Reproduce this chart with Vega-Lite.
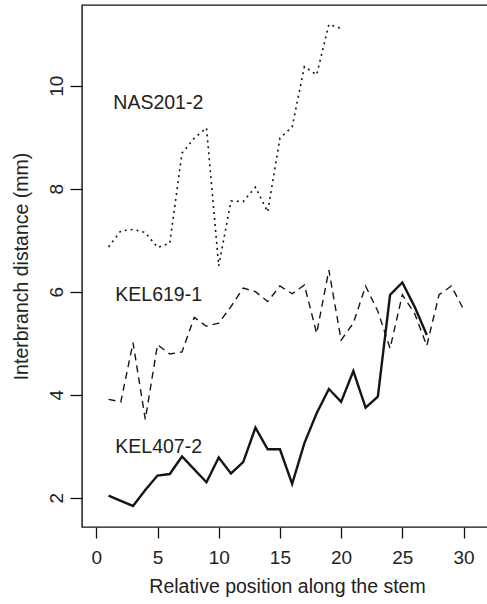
{
  "$schema": "https://vega.github.io/schema/vega-lite/v6.json",
  "autosize": "none",
  "width": 406,
  "height": 522,
  "padding": {"left": 82, "top": 5, "right": 0, "bottom": 77},
  "background": "white",
  "config": {
    "font": "Liberation Sans",
    "view": {"stroke": "#111", "strokeWidth": 1.4},
    "axis": {"grid": false, "domain": false, "tickColor": "#111", "tickWidth": 1.3, "labelColor": "#222", "titleColor": "#222", "labelFont": "Liberation Sans", "titleFont": "Liberation Sans", "labelFontSize": 19, "titleFontSize": 19.5, "titleFontWeight": "normal"}
  },
  "datasets": {
    "series": [
      {"pos": 1, "dist": 6.87, "specimen": "NAS201-2"},
      {"pos": 2, "dist": 7.18, "specimen": "NAS201-2"},
      {"pos": 3, "dist": 7.21, "specimen": "NAS201-2"},
      {"pos": 4, "dist": 7.15, "specimen": "NAS201-2"},
      {"pos": 5, "dist": 6.86, "specimen": "NAS201-2"},
      {"pos": 6, "dist": 6.94, "specimen": "NAS201-2"},
      {"pos": 7, "dist": 8.69, "specimen": "NAS201-2"},
      {"pos": 8, "dist": 8.98, "specimen": "NAS201-2"},
      {"pos": 9, "dist": 9.18, "specimen": "NAS201-2"},
      {"pos": 10, "dist": 6.5, "specimen": "NAS201-2"},
      {"pos": 11, "dist": 7.76, "specimen": "NAS201-2"},
      {"pos": 12, "dist": 7.75, "specimen": "NAS201-2"},
      {"pos": 13, "dist": 8.03, "specimen": "NAS201-2"},
      {"pos": 14, "dist": 7.55, "specimen": "NAS201-2"},
      {"pos": 15, "dist": 8.98, "specimen": "NAS201-2"},
      {"pos": 16, "dist": 9.2, "specimen": "NAS201-2"},
      {"pos": 17, "dist": 10.37, "specimen": "NAS201-2"},
      {"pos": 18, "dist": 10.21, "specimen": "NAS201-2"},
      {"pos": 19, "dist": 11.19, "specimen": "NAS201-2"},
      {"pos": 20, "dist": 11.11, "specimen": "NAS201-2"},
      {"pos": 1, "dist": 3.91, "specimen": "KEL619-1"},
      {"pos": 2, "dist": 3.86, "specimen": "KEL619-1"},
      {"pos": 3, "dist": 5.01, "specimen": "KEL619-1"},
      {"pos": 4, "dist": 3.52, "specimen": "KEL619-1"},
      {"pos": 5, "dist": 4.97, "specimen": "KEL619-1"},
      {"pos": 6, "dist": 4.79, "specimen": "KEL619-1"},
      {"pos": 7, "dist": 4.83, "specimen": "KEL619-1"},
      {"pos": 8, "dist": 5.5, "specimen": "KEL619-1"},
      {"pos": 9, "dist": 5.33, "specimen": "KEL619-1"},
      {"pos": 10, "dist": 5.39, "specimen": "KEL619-1"},
      {"pos": 11, "dist": 5.71, "specimen": "KEL619-1"},
      {"pos": 12, "dist": 6.07, "specimen": "KEL619-1"},
      {"pos": 13, "dist": 6.0, "specimen": "KEL619-1"},
      {"pos": 14, "dist": 5.81, "specimen": "KEL619-1"},
      {"pos": 15, "dist": 6.11, "specimen": "KEL619-1"},
      {"pos": 16, "dist": 5.96, "specimen": "KEL619-1"},
      {"pos": 17, "dist": 6.13, "specimen": "KEL619-1"},
      {"pos": 18, "dist": 5.19, "specimen": "KEL619-1"},
      {"pos": 19, "dist": 6.42, "specimen": "KEL619-1"},
      {"pos": 20, "dist": 5.06, "specimen": "KEL619-1"},
      {"pos": 21, "dist": 5.39, "specimen": "KEL619-1"},
      {"pos": 22, "dist": 6.11, "specimen": "KEL619-1"},
      {"pos": 23, "dist": 5.62, "specimen": "KEL619-1"},
      {"pos": 24, "dist": 4.9, "specimen": "KEL619-1"},
      {"pos": 25, "dist": 5.94, "specimen": "KEL619-1"},
      {"pos": 26, "dist": 5.58, "specimen": "KEL619-1"},
      {"pos": 27, "dist": 4.95, "specimen": "KEL619-1"},
      {"pos": 28, "dist": 5.94, "specimen": "KEL619-1"},
      {"pos": 29, "dist": 6.11, "specimen": "KEL619-1"},
      {"pos": 30, "dist": 5.66, "specimen": "KEL619-1"},
      {"pos": 1, "dist": 2.04, "specimen": "KEL407-2"},
      {"pos": 2, "dist": 1.94, "specimen": "KEL407-2"},
      {"pos": 3, "dist": 1.84, "specimen": "KEL407-2"},
      {"pos": 4, "dist": 2.15, "specimen": "KEL407-2"},
      {"pos": 5, "dist": 2.43, "specimen": "KEL407-2"},
      {"pos": 6, "dist": 2.46, "specimen": "KEL407-2"},
      {"pos": 7, "dist": 2.8, "specimen": "KEL407-2"},
      {"pos": 8, "dist": 2.55, "specimen": "KEL407-2"},
      {"pos": 9, "dist": 2.3, "specimen": "KEL407-2"},
      {"pos": 10, "dist": 2.78, "specimen": "KEL407-2"},
      {"pos": 11, "dist": 2.47, "specimen": "KEL407-2"},
      {"pos": 12, "dist": 2.69, "specimen": "KEL407-2"},
      {"pos": 13, "dist": 3.36, "specimen": "KEL407-2"},
      {"pos": 14, "dist": 2.94, "specimen": "KEL407-2"},
      {"pos": 15, "dist": 2.94, "specimen": "KEL407-2"},
      {"pos": 16, "dist": 2.27, "specimen": "KEL407-2"},
      {"pos": 17, "dist": 3.06, "specimen": "KEL407-2"},
      {"pos": 18, "dist": 3.64, "specimen": "KEL407-2"},
      {"pos": 19, "dist": 4.11, "specimen": "KEL407-2"},
      {"pos": 20, "dist": 3.86, "specimen": "KEL407-2"},
      {"pos": 21, "dist": 4.46, "specimen": "KEL407-2"},
      {"pos": 22, "dist": 3.75, "specimen": "KEL407-2"},
      {"pos": 23, "dist": 3.96, "specimen": "KEL407-2"},
      {"pos": 24, "dist": 5.94, "specimen": "KEL407-2"},
      {"pos": 25, "dist": 6.18, "specimen": "KEL407-2"},
      {"pos": 26, "dist": 5.71, "specimen": "KEL407-2"},
      {"pos": 27, "dist": 5.16, "specimen": "KEL407-2"}
    ],
    "labels": [
      {"pos": 1.39, "dist": 9.54, "specimen": "NAS201-2"},
      {"pos": 1.55, "dist": 5.82, "specimen": "KEL619-1"},
      {"pos": 1.55, "dist": 2.87, "specimen": "KEL407-2"}
    ]
  },
  "encoding": {
    "x": {"field": "pos", "type": "quantitative", "scale": {"domain": [-1.17, 32], "nice": false, "zero": false},
      "axis": {"values": [0, 5, 10, 15, 20, 25, 30], "tickSize": 11, "labelPadding": 10, "title": "Relative position along the stem", "titleX": 205, "titleY": 65, "titleBaseline": "alphabetic", "titleAnchor": null, "titleAlign": "center"}},
    "y": {"field": "dist", "type": "quantitative", "scale": {"domain": [1.431, 11.567], "nice": false, "zero": false},
      "axis": {"values": [2, 4, 6, 8, 10], "tickSize": 12, "labelPadding": 8, "labelAngle": 270, "labelAlign": "center", "labelBaseline": "alphabetic", "title": "Interbranch distance (mm)", "titleX": -55, "titleY": 261, "titleAngle": 270, "titleAlign": "center", "titleBaseline": "alphabetic"}}
  },
  "layer": [
    {
      "data": {"name": "series"},
      "transform": [{"filter": "datum.specimen === 'NAS201-2'"}],
      "mark": {"type": "line", "color": "#151515", "strokeWidth": 1.6, "strokeDash": [2, 4], "strokeCap": "butt"}
    },
    {
      "data": {"name": "series"},
      "transform": [{"filter": "datum.specimen === 'KEL619-1'"}],
      "mark": {"type": "line", "color": "#151515", "strokeWidth": 1.4, "strokeDash": [7, 5], "strokeCap": "butt"}
    },
    {
      "data": {"name": "series"},
      "transform": [{"filter": "datum.specimen === 'KEL407-2'"}],
      "mark": {"type": "line", "color": "#151515", "strokeWidth": 2.4, "strokeJoin": "miter"}
    },
    {
      "data": {"name": "labels"},
      "mark": {"type": "text", "align": "left", "baseline": "alphabetic", "fontSize": 19.5, "font": "Liberation Sans", "color": "#222"},
      "encoding": {
        "text": {"field": "specimen"}
      }
    }
  ]
}
